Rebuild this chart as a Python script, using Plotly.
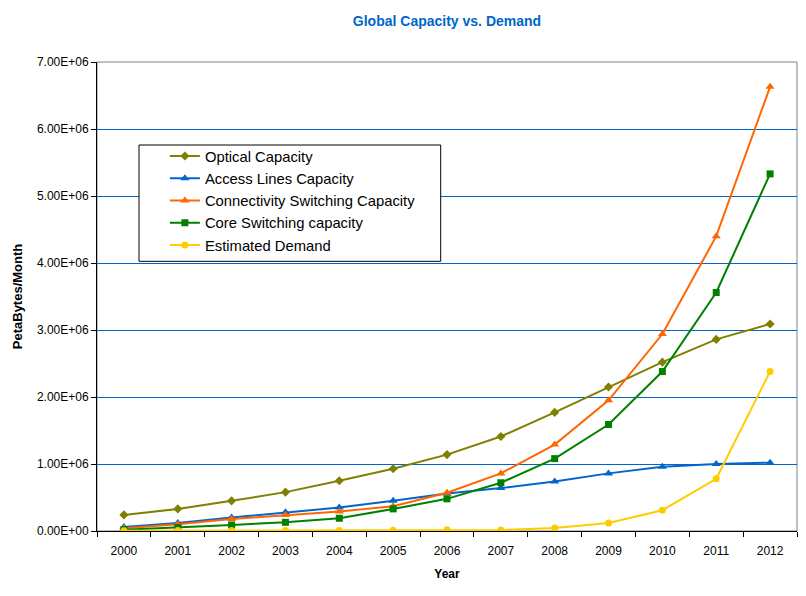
import plotly.graph_objects as go

years = ["2000", "2001", "2002", "2003", "2004", "2005", "2006", "2007", "2008", "2009", "2010", "2011", "2012"]
optical = [0.24e6, 0.33e6, 0.45e6, 0.58e6, 0.75e6, 0.93e6, 1.14e6, 1.41e6, 1.77e6, 2.15e6, 2.52e6, 2.86e6, 3.09e6]
access = [0.06e6, 0.12e6, 0.20e6, 0.28e6, 0.35e6, 0.45e6, 0.56e6, 0.64e6, 0.74e6, 0.86e6, 0.96e6, 1.00e6, 1.02e6]
connectivity = [0.04e6, 0.10e6, 0.18e6, 0.24e6, 0.29e6, 0.37e6, 0.57e6, 0.86e6, 1.29e6, 1.95e6, 2.94e6, 4.40e6, 6.63e6]
core = [0.02e6, 0.05e6, 0.09e6, 0.13e6, 0.19e6, 0.33e6, 0.48e6, 0.72e6, 1.08e6, 1.59e6, 2.38e6, 3.56e6, 5.33e6]
demand = [0.005e6, 0.006e6, 0.007e6, 0.008e6, 0.009e6, 0.010e6, 0.02e6, 0.015e6, 0.045e6, 0.12e6, 0.31e6, 0.78e6, 2.38e6]

y_tickvals = [0, 1e6, 2e6, 3e6, 4e6, 5e6, 6e6, 7e6]
y_ticktext = ["0.00E+00", "1.00E+06", "2.00E+06", "3.00E+06", "4.00E+06", "5.00E+06", "6.00E+06", "7.00E+06"]

series = [
    ("Optical Capacity", optical, "#808000", "diamond", 7),
    ("Access Lines Capacity", access, "#0066CC", "triangle-up", 8),
    ("Connectivity Switching Capacity", connectivity, "#FF6600", "triangle-up", 8),
    ("Core Switching capacity", core, "#008000", "square", 7),
    ("Estimated Demand", demand, "#FFCC00", "circle", 7),
]

fig = go.Figure()
for name, vals, color, sym, sz in series:
    fig.add_trace(go.Scatter(
        x=years, y=vals, name=name, mode="lines+markers",
        line=dict(color=color, width=2),
        marker=dict(symbol=sym, size=sz, color=color),
    ))

fig.update_layout(
    width=806, height=596,
    margin=dict(l=97, r=9, t=62, b=65, autoexpand=False),
    paper_bgcolor="white", plot_bgcolor="white",
    font=dict(family="Liberation Sans, Arial, sans-serif", size=12, color="black"),
    title=dict(text="<b>Global Capacity vs. Demand</b>", xref="paper", x=0.5, xanchor="center",
               yref="container", y=0.965, yanchor="middle",
               font=dict(size=14, color="#0066CC")),
    showlegend=True,
    legend=dict(x=0.097, y=0.834, xanchor="left", yanchor="top", bgcolor="rgba(0,0,0,0)",
                borderwidth=0, font=dict(size=14.8), tracegroupgap=0),
    xaxis=dict(type="category", range=[-0.5, 12.5], tickson="boundaries", ticks="outside", ticklen=5,
               tickcolor="black", showline=True, linecolor="black", linewidth=1, showgrid=False,
               automargin=False, ticklabelstandoff=9,
               title=dict(text="<b>Year</b>", font=dict(size=12), standoff=12),
               tickfont=dict(size=12)),
    yaxis=dict(range=[0, 7e6], tickvals=y_tickvals, ticktext=y_ticktext, ticks="outside", ticklen=5,
               tickcolor="black", showline=True, linecolor="black", linewidth=1, automargin=False,
               showgrid=True, gridcolor="#0066CC", gridwidth=1, zeroline=False,
               ticklabelstandoff=0,
               title=dict(text="<b>PetaBytes/Month</b>", font=dict(size=13), standoff=11),
               tickfont=dict(size=12)),
    shapes=[
        dict(type="rect", xref="paper", yref="paper", x0=0, x1=1, y0=0, y1=1,
             line=dict(color="#808080", width=1), layer="below"),
        dict(type="rect", xref="paper", yref="paper", x0=0.06, x1=0.491, y0=0.575, y1=0.823,
             line=dict(color="black", width=1), fillcolor="white", layer="above"),
    ],
)
fig.write_html("out.html", post_script="document.body.style.margin='0';",
               config={"displayModeBar": False})
